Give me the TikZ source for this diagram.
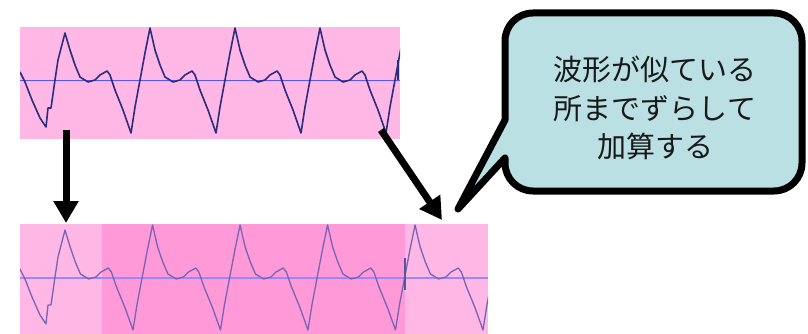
\documentclass[tikz,border=0pt]{standalone}
\usepackage{fontspec}
\newfontfamily\jp{Noto Sans CJK JP}
\usetikzlibrary{arrows.meta}
\definecolor{pinkA}{RGB}{255,183,229}
\definecolor{pinkB}{RGB}{255,153,216}
\definecolor{waveTop}{RGB}{45,45,125}
\definecolor{axisTop}{RGB}{85,85,255}
\definecolor{waveBot}{RGB}{120,100,180}
\definecolor{axisBot}{RGB}{155,135,250}
\definecolor{bubble}{RGB}{186,224,228}
\tikzset{
  wavetop/.style={draw=waveTop, line width=1.6pt, line join=round},
  wavebot/.style={draw=waveBot, line width=1.3pt, line join=round},
  bigarrow/.style={draw=black, line width=7pt, -{Triangle[width=24pt,length=22pt]}},
  bubbleline/.style={draw=black, line width=7pt, fill=bubble, line join=round},
  msgtext/.style={font=\jp\fontsize{29pt}{38.5pt}\selectfont, align=center, text=black!90},
}
\begin{document}
\begin{tikzpicture}[x=1pt,y=-1pt]
\useasboundingbox (0,0) rectangle (808,334);

% ---------- top waveform ----------
\fill[pinkA] (20,27) rectangle (400,139);
\draw[axisTop, line width=1.5pt] (20,80.5) -- (400,80.5);
\begin{scope}
\clip (20,27) rectangle (400,139);
\draw[wavetop] (20,72) -- (25,82) -- (32,100) -- (40,118) -- (46,127) -- (48,108) -- (51,108) -- (55,80) -- (58,60) -- (65,33)
  \foreach \p in {65,150,235,320} {
    -- ({\p+5},50) -- ({\p+10},65) -- ({\p+15},77) -- ({\p+23},82) -- ({\p+30},80) -- ({\p+35},75)
    -- ({\p+42},71) -- ({\p+45},75) -- ({\p+50},90) -- ({\p+58},110) -- ({\p+66},133) -- ({\p+70},107)
    -- ({\p+75},80) -- ({\p+80},53) -- ({\p+85},28)
  };
\draw[waveTop, line width=2pt] (398,60) -- (398,80);
\end{scope}

% ---------- bottom waveform ----------
\fill[pinkA] (20,224) rectangle (102,334);
\fill[pinkB] (102,224) rectangle (405,334);
\fill[pinkA] (405,224) rectangle (488,334);
\draw[axisBot, line width=1.1pt] (20,278) -- (488,278);
\begin{scope}
\clip (20,224) rectangle (488,334);
\begin{scope}[shift={(0,197)}]
\draw[wavebot] (20,72) -- (25,82) -- (32,100) -- (40,118) -- (46,127) -- (48,108) -- (51,108) -- (55,80) -- (58,60) -- (65,33)
  \foreach \p in {65,152.5,240,327.5,415} {
    -- ({\p+5*1.03},50) -- ({\p+10*1.03},65) -- ({\p+15*1.03},77) -- ({\p+23*1.03},82) -- ({\p+30*1.03},80) -- ({\p+35*1.03},75)
    -- ({\p+42*1.03},71) -- ({\p+45*1.03},75) -- ({\p+50*1.03},90) -- ({\p+58*1.03},110) -- ({\p+66*1.03},133) -- ({\p+70*1.03},107)
    -- ({\p+75*1.03},80) -- ({\p+80*1.03},53) -- ({\p+85*1.03},28)
  };
\end{scope}
\draw[waveTop!80, line width=2pt] (405,258) -- (405,290);
\end{scope}

% ---------- arrows ----------
\coordinate (a1s) at (66,130);
\coordinate (a1e) at (66,223);
\coordinate (a2s) at (381,130);
\coordinate (a2e) at (442,220);
\draw[bigarrow] (a1s) -- (a1e);
\draw[bigarrow] (a2s) -- (a2e);

% ---------- callout ----------
\draw[bubbleline] (458,209) -- (505,158) -- (505,163)
  .. controls (505,178.5) and (517.5,191) .. (533,191)
  -- (774,191)
  .. controls (789.5,191) and (802,178.5) .. (802,163)
  -- (802,41)
  .. controls (802,25.5) and (789.5,13) .. (774,13)
  -- (533,13)
  .. controls (517.5,13) and (505,25.5) .. (505,41)
  -- (505,120) -- cycle;
\node[msgtext] (msg) at (655,108) {波形が似ている\\所までずらして\\加算する};
\end{tikzpicture}
\end{document}
